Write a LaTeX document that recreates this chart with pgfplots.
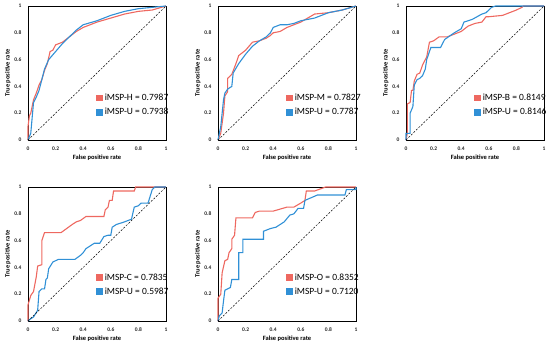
\documentclass[border=0pt]{standalone}
\usepackage{fontspec}
\setmainfont{Carlito}
\usepackage{pgfplots}
\pgfplotsset{compat=1.18}
\definecolor{rocred}{RGB}{238,104,96}
\definecolor{rocblue}{RGB}{48,144,214}
\pgfplotsset{
  rocaxis/.style={
    scale only axis, width=138pt, height=134pt,
    xmin=0, xmax=1, ymin=0, ymax=1,
    xtick={0,0.2,...,1}, ytick={0,0.2,...,1},
    xticklabels={0,0.2,0.4,0.6,0.8,1},
    yticklabels={0,0.2,0.4,0.6,0.8,1},
    major tick length=0pt,
    axis line style={black, line width=0.7pt},
    tick label style={font=\fontsize{5.5}{6}\selectfont\bfseries, text=black!85},
    xticklabel style={yshift=-3pt},
    yticklabel style={xshift=-3pt},
    xlabel={False positive rate}, ylabel={True positive rate},
    label style={font=\fontsize{6.5}{7}\selectfont\bfseries},
    xlabel style={yshift=2pt},
    ylabel style={yshift=-3pt},
    clip=false,
    legend style={draw=none, fill=none, at={(axis cs:0.47,0.26)}, anchor=west,
      font=\fontsize{9.5}{11}\selectfont, row sep=2pt,
      legend cell align=left},
    legend image code/.code={\fill[##1] (0pt,-2.8pt) rectangle (5.6pt,2.8pt);},
  },
  rocline/.style={color=#1, line width=1.1pt},
}
\begin{document}
\begin{tikzpicture}
\useasboundingbox (0pt,0pt) rectangle (550pt,349pt);
% Plot 1
\begin{axis}[rocaxis, at={(28pt,209pt)}, anchor=south west]
\addplot[rocline=rocred] coordinates {(0,0) (0,0.1) (0.01,0.18) (0.02,0.2) (0.03,0.25) (0.04,0.3) (0.06,0.35) (0.08,0.41) (0.1,0.45) (0.12,0.52) (0.14,0.57) (0.16,0.66) (0.18,0.67) (0.2,0.71) (0.25,0.73) (0.3,0.77) (0.35,0.81) (0.4,0.84) (0.45,0.86) (0.5,0.88) (0.6,0.91) (0.7,0.94) (0.8,0.96) (0.9,0.97) (1,1)};
\addlegendentry{iMSP-H = 0.7987}
\addplot[rocline=rocblue] coordinates {(0,0) (0.02,0.05) (0.04,0.28) (0.06,0.32) (0.08,0.37) (0.1,0.45) (0.12,0.53) (0.15,0.6) (0.2,0.66) (0.25,0.72) (0.3,0.77) (0.35,0.82) (0.4,0.86) (0.5,0.89) (0.6,0.93) (0.7,0.96) (0.8,0.98) (0.9,0.99) (1,1)};
\addlegendentry{iMSP-U = 0.7938}
\addplot[black, line width=0.5pt, dash pattern=on 2pt off 1.5pt, forget plot] coordinates {(0,0) (1,1)};
\end{axis}
% Plot 2
\begin{axis}[rocaxis, at={(218pt,209pt)}, anchor=south west]
\addplot[rocline=rocred] coordinates {(0,0) (0.02,0.05) (0.04,0.2) (0.05,0.33) (0.07,0.36) (0.07,0.46) (0.1,0.49) (0.13,0.57) (0.15,0.63) (0.2,0.67) (0.25,0.73) (0.3,0.74) (0.35,0.76) (0.38,0.78) (0.4,0.8) (0.45,0.81) (0.5,0.84) (0.55,0.86) (0.6,0.88) (0.65,0.91) (0.7,0.94) (0.8,0.95) (0.9,0.97) (1,1)};
\addlegendentry{iMSP-M = 0.7827}
\addplot[rocline=rocblue] coordinates {(0,0) (0.02,0.1) (0.04,0.3) (0.05,0.35) (0.07,0.38) (0.1,0.4) (0.11,0.5) (0.15,0.57) (0.2,0.64) (0.25,0.7) (0.3,0.74) (0.35,0.77) (0.38,0.8) (0.4,0.84) (0.45,0.86) (0.5,0.86) (0.55,0.87) (0.6,0.89) (0.7,0.91) (0.8,0.95) (0.9,0.97) (1,1)};
\addlegendentry{iMSP-U = 0.7787}
\addplot[black, line width=0.5pt, dash pattern=on 2pt off 1.5pt, forget plot] coordinates {(0,0) (1,1)};
\end{axis}
% Plot 3
\begin{axis}[rocaxis, at={(406pt,209pt)}, anchor=south west]
\addplot[rocline=rocred] coordinates {(0,0) (0.01,0.05) (0.01,0.27) (0.03,0.28) (0.04,0.37) (0.05,0.37) (0.06,0.44) (0.08,0.49) (0.1,0.5) (0.12,0.56) (0.15,0.62) (0.17,0.73) (0.2,0.74) (0.24,0.77) (0.3,0.77) (0.35,0.79) (0.4,0.81) (0.45,0.85) (0.5,0.87) (0.55,0.88) (0.58,0.92) (0.6,0.92) (0.7,0.93) (0.8,0.97) (0.84,0.99) (0.85,1) (1,1)};
\addlegendentry{iMSP-B = 0.8149}
\addplot[rocline=rocblue] coordinates {(0,0) (0,0.05) (0.03,0.05) (0.03,0.2) (0.05,0.25) (0.06,0.41) (0.08,0.45) (0.1,0.46) (0.12,0.48) (0.14,0.53) (0.15,0.6) (0.18,0.69) (0.25,0.69) (0.28,0.75) (0.35,0.8) (0.4,0.83) (0.42,0.88) (0.48,0.9) (0.55,0.94) (0.58,0.95) (0.62,0.99) (0.65,1) (1,1)};
\addlegendentry{iMSP-U = 0.8146}
\addplot[black, line width=0.5pt, dash pattern=on 2pt off 1.5pt, forget plot] coordinates {(0,0) (1,1)};
\end{axis}
% Plot 4
\begin{axis}[rocaxis, at={(28pt,28pt)}, anchor=south west, legend style={at={(axis cs:0.47,0.27)}}]
\addplot[rocline=rocred] coordinates {(0,0) (0,0.12) (0.02,0.19) (0.04,0.22) (0.06,0.33) (0.07,0.41) (0.1,0.42) (0.1,0.6) (0.12,0.66) (0.24,0.66) (0.28,0.69) (0.32,0.72) (0.35,0.74) (0.38,0.75) (0.42,0.78) (0.55,0.78) (0.56,0.83) (0.58,0.85) (0.59,0.9) (0.61,0.9) (0.62,0.97) (0.77,0.97) (0.78,1) (1,1)};
\addlegendentry{iMSP-C = 0.7835}
\addplot[rocline=rocblue] coordinates {(0,0) (0.01,0.01) (0.04,0.03) (0.07,0.08) (0.08,0.22) (0.1,0.24) (0.12,0.24) (0.13,0.31) (0.14,0.32) (0.15,0.39) (0.18,0.44) (0.22,0.46) (0.34,0.46) (0.38,0.49) (0.4,0.51) (0.42,0.54) (0.45,0.56) (0.48,0.58) (0.52,0.58) (0.55,0.63) (0.58,0.64) (0.6,0.64) (0.61,0.7) (0.64,0.72) (0.7,0.74) (0.75,0.76) (0.77,0.85) (0.8,0.86) (0.82,0.88) (0.87,0.88) (0.9,0.98) (0.92,1) (1,1)};
\addlegendentry{iMSP-U = 0.5987}
\addplot[black, line width=0.5pt, dash pattern=on 2pt off 1.5pt, forget plot] coordinates {(0,0) (1,1)};
\end{axis}
% Plot 5
\begin{axis}[rocaxis, at={(218pt,28pt)}, anchor=south west, legend style={at={(axis cs:0.47,0.27)}}]
\addplot[rocline=rocred] coordinates {(0,0) (0,0.17) (0.02,0.2) (0.03,0.36) (0.05,0.45) (0.07,0.46) (0.08,0.51) (0.1,0.54) (0.1,0.61) (0.12,0.64) (0.13,0.77) (0.25,0.77) (0.27,0.81) (0.3,0.82) (0.4,0.82) (0.5,0.85) (0.55,0.85) (0.6,0.88) (0.63,0.9) (0.64,0.97) (0.7,0.97) (0.78,1) (1,1)};
\addlegendentry{iMSP-O = 0.8352}
\addplot[rocline=rocblue] coordinates {(0,0) (0.01,0.04) (0.03,0.06) (0.04,0.15) (0.05,0.23) (0.09,0.25) (0.1,0.31) (0.15,0.31) (0.15,0.51) (0.18,0.51) (0.18,0.61) (0.33,0.61) (0.33,0.67) (0.38,0.69) (0.42,0.7) (0.48,0.74) (0.52,0.79) (0.55,0.8) (0.58,0.84) (0.62,0.84) (0.63,0.9) (0.72,0.94) (0.92,0.94) (0.93,0.98) (1,0.98) (1,1)};
\addlegendentry{iMSP-U = 0.7120}
\addplot[black, line width=0.5pt, dash pattern=on 2pt off 1.5pt, forget plot] coordinates {(0,0) (1,1)};
\end{axis}
\end{tikzpicture}
\end{document}
